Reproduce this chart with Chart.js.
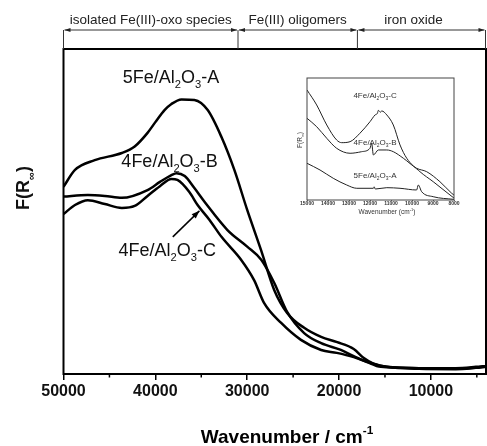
<!DOCTYPE html>
<html>
<head>
<meta charset="utf-8">
<script src="https://cdn.jsdelivr.net/npm/chart.js@4.4.1/dist/chart.umd.min.js"></script>
<style>
  body { margin: 0; background: #fff; }
  #wrap { position: relative; width: 487px; height: 446px; }
  #inset { position: absolute; left: 290px; top: 70px; }
</style>
</head>
<body>
<div id="wrap">
  <canvas id="mainChart" width="487" height="446"></canvas>
  <canvas id="inset" width="185" height="148"></canvas>
</div>
<script>
// main spectra (wavenumber in cm-1, F(R) in arbitrary units)
const waveA = [50000, 48750, 46600, 43650, 42250, 40850, 40000, 39000, 38250, 37150, 35750, 34300, 32800, 31400, 30000, 28500, 27050, 25650, 23800, 21950, 20200, 18400, 17300, 16200, 14800, 11300, 7300, 5100, 4000];
const valA  = [57.6, 62.8, 65.8, 68.0, 70.0, 74.2, 77.5, 81.2, 83.1, 84.5, 84.3, 81.2, 72.9, 62.8, 50.5, 38.2, 25.8, 18.8, 14.2, 11.4, 9.8, 7.7, 4.9, 3.1, 2.2, 1.8, 1.8, 2.2, 2.5];

const waveB = [50000, 47350, 45500, 43650, 40850, 39500, 38250, 37700, 36800, 35750, 34650, 32150, 30000, 28450, 27050, 25650, 23800, 21950, 19800, 18400, 16950, 15450, 11300, 7300, 5100, 4000];
const valB  = [54.6, 55.1, 54.8, 54.2, 56.6, 59.1, 61.2, 61.8, 60.9, 57.2, 53.0, 44.3, 39.2, 35.1, 28.0, 19.1, 12.6, 9.5, 7.4, 5.5, 3.7, 2.2, 1.8, 1.6, 2.0, 2.3];

const waveC = [50000, 48750, 47350, 45500, 43650, 42250, 40850, 39500, 38250, 37600, 36300, 35400, 34100, 32800, 30650, 29250, 28150, 26300, 24150, 21950, 20250, 18400, 16550, 14800, 11300, 7300, 5100, 4000];
const valC  = [49.2, 52.0, 53.5, 52.3, 51.1, 51.7, 54.8, 57.8, 60.0, 59.7, 56.0, 52.0, 47.4, 42.2, 35.1, 28.9, 21.8, 15.7, 10.5, 7.4, 6.5, 5.2, 3.4, 2.2, 1.6, 1.5, 1.9, 2.2];

// inset (near-IR region)
const insetWaveA = [15000, 14380, 13750, 13110, 12630, 11840, 11800, 11750, 11200, 10570, 9780, 9700, 9540, 8990, 8000];
const insetValA  = [30.1, 24.6, 17.8, 12.3, 9.6, 9.6, 10.8, 9.0, 10.1, 9.6, 8.2, 12.3, 6.8, 2.7, 0.5];
const insetWaveB = [15000, 14540, 14060, 13590, 12950, 12400, 12000, 11920, 11840, 11600, 11200, 10890, 10410, 9780, 9300, 8670, 8110, 8000];
const insetValB  = [67.0, 60.1, 50.6, 42.4, 38.3, 39.6, 42.4, 46.5, 36.9, 41.0, 41.0, 39.6, 34.2, 26.0, 23.2, 15.0, 5.5, 4.0];
const insetWaveC = [15000, 14540, 14060, 13590, 13350, 12950, 12480, 12000, 11760, 11650, 11600, 11500, 11440, 11200, 10890, 10570, 10250, 9620, 8990, 8190, 8000];
const insetValC  = [90.2, 77.9, 61.5, 49.2, 47.0, 47.8, 54.7, 64.2, 69.7, 71.0, 73.5, 72.0, 73.0, 69.7, 61.5, 45.1, 34.2, 23.2, 15.0, 4.1, 1.6];

const seriesNames = ['5Fe/Al2O3-A', '4Fe/Al2O3-B', '4Fe/Al2O3-C'];
const regionEdges = [50000, 31000, 18000, 4000];
const regionNames = ['isolated Fe(III)-oxo species', 'Fe(III) oligomers', 'iron oxide'];
const xTicksMain = [50000, 40000, 30000, 20000, 10000];
const xMinorMain = [45000, 35000, 25000, 15000, 5000];

const FONT = '"Liberation Sans", Arial, sans-serif';

function pts(xs, ys) {
  return xs.map((x, i) => ({ x: x, y: ys[i] }));
}

// split "Al2O3" style names into normal / subscript pieces
function chemParts(s) {
  const parts = [];
  for (let i = 0; i < s.length; i++) {
    const ch = s[i];
    const sub = /[0-9]/.test(ch) && i > 0 && /[A-Za-z]/.test(s[i - 1]) ? 1 : 0;
    if (parts.length && parts[parts.length - 1][1] === sub) parts[parts.length - 1][0] += ch;
    else parts.push([ch, sub]);
  }
  return parts;
}

// draws pieces centred on (cx, cy); shift: 1 subscript, -1 superscript
function drawParts(ctx, parts, cx, cy, size, weight) {
  const w = parts.map(p => {
    ctx.font = weight + ' ' + (p[1] ? size * 0.62 : size) + 'px ' + FONT;
    return ctx.measureText(p[0]).width;
  });
  let x = cx - w.reduce((a, b) => a + b, 0) / 2;
  const base = cy + size * 0.36;
  ctx.textAlign = 'left';
  ctx.textBaseline = 'alphabetic';
  parts.forEach((p, i) => {
    ctx.font = weight + ' ' + (p[1] ? size * 0.62 : size) + 'px ' + FONT;
    let y = base;
    if (p[1] === 1) y = base + size * 0.28;
    if (p[1] === -1) y = base - size * 0.45;
    ctx.fillText(p[0], x, y);
    x += w[i];
  });
}

function arrowHead(ctx, x, y, ang, len, half) {
  ctx.beginPath();
  ctx.moveTo(x, y);
  ctx.lineTo(x - len * Math.cos(ang) + half * Math.sin(ang), y - len * Math.sin(ang) - half * Math.cos(ang));
  ctx.lineTo(x - len * Math.cos(ang) - half * Math.sin(ang), y - len * Math.sin(ang) + half * Math.cos(ang));
  ctx.closePath();
  ctx.fill();
}

const mainDecor = {
  id: 'mainDecor',
  afterDraw(chart) {
    const ctx = chart.ctx, a = chart.chartArea;
    const xs = chart.scales.x, ys = chart.scales.y;
    ctx.save();
    // frame
    ctx.strokeStyle = '#000';
    ctx.lineWidth = 2;
    ctx.strokeRect(a.left, a.top, a.right - a.left, a.bottom - a.top);
    // minor ticks
    ctx.lineWidth = 1.5;
    xMinorMain.forEach(v => {
      const px = xs.getPixelForValue(v);
      ctx.beginPath(); ctx.moveTo(px, a.bottom); ctx.lineTo(px, a.bottom + 3.5); ctx.stroke();
    });
    // region brackets on top
    ctx.strokeStyle = '#333';
    ctx.fillStyle = '#222';
    ctx.lineWidth = 1;
    const yArr = 30;
    const edges = regionEdges.map(v => Math.min(xs.getPixelForValue(v), a.right - 0.5));
    edges.forEach(px => {
      ctx.beginPath(); ctx.moveTo(px, yArr); ctx.lineTo(px, a.top); ctx.stroke();
    });
    for (let i = 0; i < regionNames.length; i++) {
      const l = edges[i] + 1, r = edges[i + 1] - 1;
      ctx.beginPath(); ctx.moveTo(l, yArr); ctx.lineTo(r, yArr); ctx.stroke();
      arrowHead(ctx, l, yArr, Math.PI, 6, 2);
      arrowHead(ctx, r, yArr, 0, 6, 2);
      ctx.font = '13.5px ' + FONT;
      ctx.textAlign = 'center';
      ctx.textBaseline = 'middle';
      ctx.fillText(regionNames[i], (edges[i] + edges[i + 1]) / 2 - (i === 2 ? 8 : 0), 20);
    }
    // series labels
    ctx.fillStyle = '#111';
    const labelPos = [[38300, 91.4], [38450, 65.8], [38700, 38.2]];
    seriesNames.forEach((n, i) => {
      drawParts(ctx, chemParts(n), xs.getPixelForValue(labelPos[i][0]), ys.getPixelForValue(labelPos[i][1]), 18, 'normal');
    });
    // arrow from C label to its curve
    const x0 = xs.getPixelForValue(38100), y0 = ys.getPixelForValue(42.2);
    const x1 = xs.getPixelForValue(35200), y1 = ys.getPixelForValue(50.2);
    ctx.strokeStyle = '#000';
    ctx.fillStyle = '#000';
    ctx.lineWidth = 1.5;
    ctx.beginPath(); ctx.moveTo(x0, y0); ctx.lineTo(x1, y1); ctx.stroke();
    arrowHead(ctx, x1, y1, Math.atan2(y1 - y0, x1 - x0), 8, 3);
    // y title
    ctx.save();
    ctx.translate(23, 188);
    ctx.rotate(-Math.PI / 2);
    ctx.fillStyle = '#111';
    drawParts(ctx, [['F(R', 0], ['\u221E', 1], [')', 0]], 0, 0, 18, 'bold');
    ctx.restore();
    // x title
    drawParts(ctx, [['Wavenumber / cm', 0], ['-1', -1]], 287, 436, 19, 'bold');
    ctx.restore();
  }
};

const lineStyle = { borderColor: '#000', borderWidth: 2.5, pointRadius: 0, fill: false, cubicInterpolationMode: 'monotone' };

new Chart(document.getElementById('mainChart').getContext('2d'), {
  type: 'line',
  data: {
    datasets: [
      Object.assign({ label: seriesNames[0], data: pts(waveA, valA) }, lineStyle),
      Object.assign({ label: seriesNames[1], data: pts(waveB, valB) }, lineStyle),
      Object.assign({ label: seriesNames[2], data: pts(waveC, valC) }, lineStyle)
    ]
  },
  options: {
    responsive: false,
    animation: false,
    layout: { padding: { top: 49, right: 1, left: 0, bottom: 0 } },
    plugins: { legend: { display: false }, tooltip: { enabled: false } },
    scales: {
      x: {
        type: 'linear',
        reverse: true,
        min: 4000,
        max: 50000,
        afterBuildTicks: s => { s.ticks = xTicksMain.map(v => ({ value: v })); },
        afterFit: s => { s.height = 72; },
        ticks: {
          autoSkip: false,
          maxRotation: 0,
          padding: 2,
          color: '#111',
          font: { family: FONT, size: 16, weight: 'bold' },
          callback: v => String(v)
        },
        grid: { drawOnChartArea: false, drawTicks: true, tickLength: 6, color: '#000', lineWidth: 1.5 },
        border: { display: false }
      },
      y: {
        min: 0,
        max: 100,
        ticks: { display: false },
        grid: { display: false },
        border: { display: false },
        afterFit: s => { s.width = 63.5; }
      }
    }
  },
  plugins: [mainDecor]
});

// ---- inset ----
const insetDecor = {
  id: 'insetDecor',
  afterDraw(chart) {
    const ctx = chart.ctx, a = chart.chartArea;
    const xs = chart.scales.x, ys = chart.scales.y;
    ctx.save();
    ctx.strokeStyle = '#444';
    ctx.lineWidth = 1;
    ctx.strokeRect(a.left, a.top, a.right - a.left, a.bottom - a.top);
    ctx.fillStyle = '#333';
    const labelPos = [[11760, 20.5], [11760, 47.5], [11760, 86]];
    seriesNames.forEach((n, i) => {
      drawParts(ctx, chemParts(n), xs.getPixelForValue(labelPos[i][0]), ys.getPixelForValue(labelPos[i][1]), 8, 'normal');
    });
    ctx.save();
    ctx.translate(10, 70);
    ctx.rotate(-Math.PI / 2);
    drawParts(ctx, [['F(R', 0], ['\u221E', 1], [')', 0]], 0, 0, 6.5, 'normal');
    ctx.restore();
    drawParts(ctx, [['Wavenumber (cm', 0], ['-1', -1], [')', 0]], 97, 142, 6.5, 'normal');
    ctx.restore();
  }
};

const insetStyle = { borderColor: '#222', borderWidth: 1, pointRadius: 0, fill: false, cubicInterpolationMode: 'monotone' };

new Chart(document.getElementById('inset').getContext('2d'), {
  type: 'line',
  data: {
    datasets: [
      Object.assign({ label: seriesNames[0], data: pts(insetWaveA, insetValA) }, insetStyle),
      Object.assign({ label: seriesNames[1], data: pts(insetWaveB, insetValB) }, insetStyle),
      Object.assign({ label: seriesNames[2], data: pts(insetWaveC, insetValC) }, insetStyle)
    ]
  },
  options: {
    responsive: false,
    animation: false,
    layout: { padding: { top: 8, right: 21, left: 0, bottom: 0 } },
    plugins: { legend: { display: false }, tooltip: { enabled: false } },
    scales: {
      x: {
        type: 'linear',
        reverse: true,
        min: 8000,
        max: 15000,
        afterFit: s => { s.height = 18; },
        ticks: {
          stepSize: 1000,
          autoSkip: false,
          maxRotation: 0,
          padding: 0,
          color: '#333',
          font: { family: FONT, size: 5, weight: 'bold' },
          callback: v => String(v)
        },
        grid: { drawOnChartArea: false, drawTicks: true, tickLength: 1, color: '#444', lineWidth: 0.8 },
        border: { display: false }
      },
      y: {
        min: 0,
        max: 100,
        ticks: { display: false },
        grid: { display: false },
        border: { display: false },
        afterFit: s => { s.width = 17; }
      }
    }
  },
  plugins: [insetDecor]
});
</script>
</body>
</html>
